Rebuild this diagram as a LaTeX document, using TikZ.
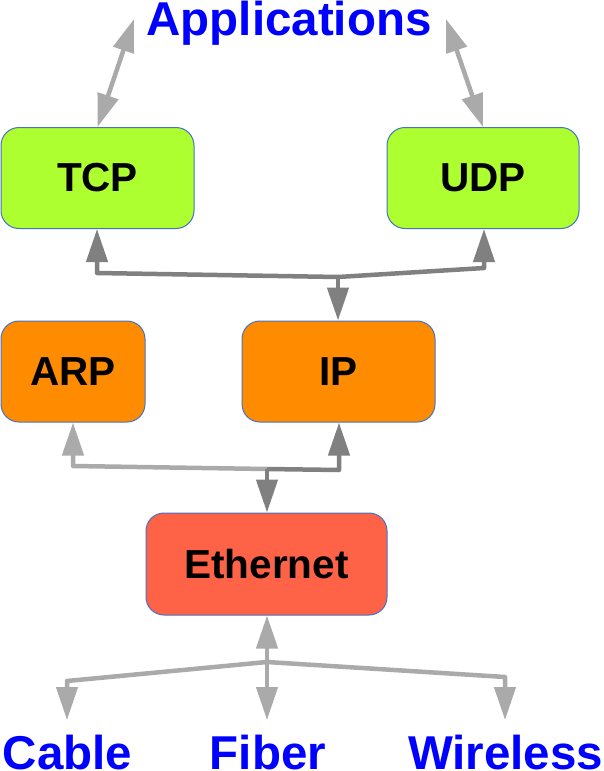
\documentclass[tikz,border=0pt]{standalone}
\usepackage{fontspec}
\setmainfont{Liberation Sans}
\usetikzlibrary{arrows.meta}
\definecolor{boxline}{RGB}{68,114,196}
\definecolor{tcpgreen}{RGB}{173,255,47}
\definecolor{iporange}{RGB}{255,140,0}
\definecolor{ethred}{RGB}{255,99,71}
\definecolor{darkarrow}{RGB}{128,128,128}
\definecolor{lightarrow}{RGB}{170,170,170}
\definecolor{labelblue}{RGB}{0,0,255}
\tikzset{
  layerbox/.style={draw=boxline, line width=1pt, rounded corners=18pt, inner sep=0pt,
    minimum height=101pt, font=\fontsize{40.5}{44}\selectfont\bfseries, text=black},
  outerlabel/.style={inner sep=0pt, anchor=base, text=labelblue, font=\fontsize{47.5}{50}\selectfont\bfseries},
  conn/.style={line width=4.5pt, line join=round, -{Triangle[length=33pt,width=21pt]}},
  dconn/.style={line width=4.5pt, {Triangle[length=33pt,width=21pt]}-{Triangle[length=33pt,width=21pt]}},
  darkc/.style={draw=darkarrow},
  lightc/.style={draw=lightarrow},
}
\begin{document}
\begin{tikzpicture}[x=1pt,y=-1pt]
\useasboundingbox (0,0) rectangle (603,771);
% boxes
\node[layerbox, fill=tcpgreen, minimum width=193pt] (TCP) at (97.5,178) {TCP};
\node[layerbox, fill=tcpgreen, minimum width=192pt] (UDP) at (483,178) {UDP};
\node[layerbox, fill=iporange, minimum width=144pt] (ARP) at (73,371.5) {ARP};
\node[layerbox, fill=iporange, minimum width=193pt] (IP) at (338.5,371.5) {IP};
\node[layerbox, fill=ethred, minimum width=241pt, minimum height=102pt] (Eth) at (266.5,564) {Ethernet};
% outer labels
\node[outerlabel] (App) at (289,35.5) {Applications};
\node[outerlabel] (Cable) at (67.5,769.5) {Cable};
\node[outerlabel] (Fiber) at (268,769.5) {Fiber};
\node[outerlabel] (Wireless) at (505.5,769.5) {Wireless};
% coordinates
\coordinate (a1) at (134,19);
\coordinate (a2) at (446,19);
\coordinate (J1) at (338,277);
\coordinate (cT) at (97,273);
\coordinate (cU) at (484,268);
\coordinate (J2) at (267,469);
\coordinate (cA) at (73,466);
\coordinate (cI) at (339,470);
\coordinate (J3) at (267,662);
\coordinate (cC) at (67,681);
\coordinate (cW) at (505,677);
\coordinate (tC) at (67,720);
\coordinate (tF) at (267,720);
\coordinate (tW) at (505,720);
% application arrows
\draw[dconn, lightc] (a1) -- (TCP.north);
\draw[dconn, lightc] (a2) -- (UDP.north);
% TCP/UDP - IP
\draw[conn, darkc] (J1) -- (cT) -- (cT |- TCP.south);
\draw[conn, darkc] (J1) -- (cU) -- (cU |- UDP.south);
\draw[conn, darkc] (J1) -- (J1 |- IP.north);
% ARP/IP - Ethernet
\draw[conn, lightc] (J2) -- (cA) -- (cA |- ARP.south);
\draw[conn, darkc] (J2) -- (cI) -- (cI |- IP.south);
\draw[conn, darkc] (J2) -- (J2 |- Eth.north);
% Ethernet - media
\draw[conn, lightc] (J3) -- (J3 |- Eth.south);
\draw[conn, lightc] (J3) -- (cC) -- (tC);
\draw[conn, lightc] (J3) -- (tF);
\draw[conn, lightc] (J3) -- (cW) -- (tW);
\end{tikzpicture}
\end{document}
